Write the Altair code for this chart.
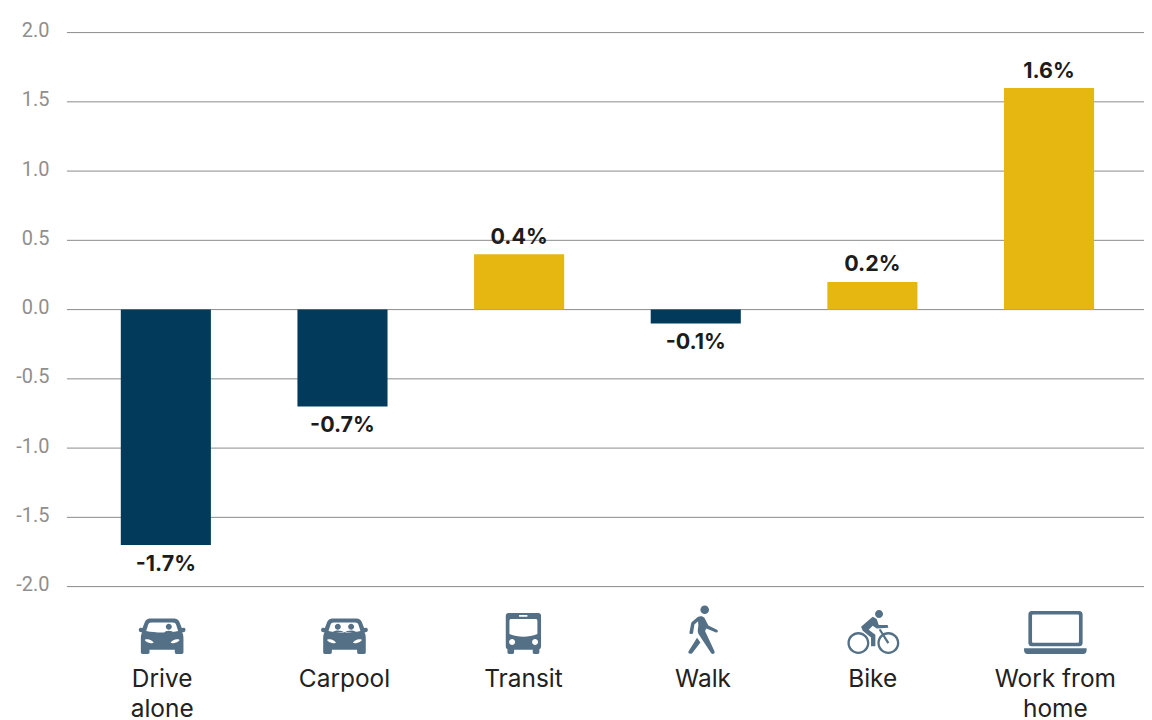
import altair as alt
import pandas as pd

categories = ["Drive alone", "Carpool", "Transit", "Walk", "Bike", "Work from home"]
values = [-1.7, -0.7, 0.4, -0.1, 0.2, 1.6]
value_labels = ["-1.7%", "-0.7%", "0.4%", "-0.1%", "0.2%", "1.6%"]
axis_labels = ["Drive\nalone", "Carpool", "Transit", "Walk", "Bike", "Work from\nhome"]
y_ticks = [-2.0, -1.5, -1.0, -0.5, 0.0, 0.5, 1.0, 1.5, 2.0]
shifts = [-3.7, 2, 4.3, 7.3, 0.3, 6.3]

NAVY = "#023a5c"
GOLD = "#e5b710"
ICON = "#547086"
FONT = "Inter"

CAR = ("M-36,-52 L36,-52 C44,-52 49,-48 52,-41 L59,-23 L66,-24 C71,-24 72,-12 66,-11 L60,-10 C63,-5 64,0 64,8 "
       "L64,50 C64,53 62,55 59,55 L43,55 C40,55 38,53 38,50 L38,42 L-38,42 L-38,50 C-38,53 -40,55 -43,55 L-59,55 "
       "C-62,55 -64,53 -64,50 L-64,8 C-64,0 -63,-5 -60,-10 L-66,-11 C-72,-12 -71,-24 -66,-24 L-59,-23 L-52,-41 "
       "C-49,-48 -44,-52 -36,-52 Z "
       "M-32,-40 C-38,-40 -40,-38 -42,-33 L-48,-14 C-20,-8 20,-8 48,-14 L42,-33 C40,-38 38,-40 32,-40 Z "
       "M-52,12 C-52,18 -36,24 -26,22 C-26,16 -42,8 -52,12 Z "
       "M52,12 C42,8 26,16 26,22 C36,24 52,18 52,12 Z ")
DRIVER = ("M11,-27 A9,9 0 1 1 29,-27 A9,9 0 1 1 11,-27 Z "
          "M6,-9 C8,-17 32,-17 34,-9 Z")
PASSENGERS = ("M-29,-27 A9,9 0 1 1 -11,-27 A9,9 0 1 1 -29,-27 Z "
              "M11,-27 A9,9 0 1 1 29,-27 A9,9 0 1 1 11,-27 Z "
              "M-34,-11 C-30,-18 -8,-18 0,-9 C8,-18 30,-18 34,-11 Z")
BUS = ("M-53,-60 C-53,-65 -49,-68 -45,-68 L45,-68 C49,-68 53,-65 53,-60 L53,32 C53,37 51,40 48,41 L48,50 "
       "C48,53 46,55 43,55 L33,55 C30,55 28,53 28,50 L28,42 L-28,42 L-28,50 C-28,53 -30,55 -33,55 L-43,55 "
       "C-46,55 -48,53 -48,50 L-48,41 C-51,40 -53,37 -53,32 Z "
       "M-36,-50 C-40,-50 -42,-48 -42,-44 L-42,-5 C-15,6 15,6 42,-5 L42,-44 C42,-48 40,-50 36,-50 Z "
       "M-13,-62 L-13,-57 L12,-57 L12,-62 Z "
       "M-43,19 A9,9 0 1 0 -25,19 A9,9 0 1 0 -43,19 Z "
       "M26,19 A9,9 0 1 0 44,19 A9,9 0 1 0 26,19 Z")
WALK = ("M-8,-78 A13,13 0 1 1 18,-78 A13,13 0 1 1 -8,-78 Z "
        "M-16,-56 C-10,-60 0,-60 4,-54 L16,-31 L42,-18 C47,-15 44,-8 39,-10 L10,-22 L6,-14 L34,46 "
        "C38,53 29,58 24,52 L-14,-6 C-17,-12 -16,-20 -14,-30 Z "
        "M-30,-44 L-16,-56 L-14,-44 L-26,-34 L-30,-8 C-31,-3 -42,-4 -41,-10 L-36,-36 C-35,-40 -33,-42 -30,-44 Z "
        "M-18,6 L-8,20 L-32,52 C-37,58 -48,52 -43,46 Z")
BIKE = ("M7,-65 A12,12 0 1 1 31,-65 A12,12 0 1 1 7,-65 Z "
        "M-76,22 A33,33 0 1 1 -10,22 A33,33 0 1 1 -76,22 Z M-69,22 A26,26 0 1 0 -17,22 A26,26 0 1 0 -69,22 Z "
        "M14,22 A33,33 0 1 1 80,22 A33,33 0 1 1 14,22 Z M21,22 A26,26 0 1 0 73,22 A26,26 0 1 0 21,22 Z "
        "M-35,-27 L0,-57 L12,-50 L18,-32 L45,-32 L47,-24 L12,-22 L0,-30 L-12,-18 L8,-3 L8,32 L-5,32 L-5,5 L-30,-15 Z "
        "M18,-18 L24,-20 L50,20 L44,24 Z")
LAPTOP = ("M-71,-74 L72,-74 C78,-74 82,-70 82,-64 L82,22 C82,28 78,32 72,32 L-71,32 C-77,32 -81,28 -81,22 L-81,-64 "
          "C-81,-70 -77,-74 -71,-74 Z "
          "M-67,-64 C-69,-64 -70,-63 -70,-61 L-70,18 C-70,20 -69,21 -67,21 L68,21 C70,21 71,20 71,18 L71,-61 "
          "C71,-63 70,-64 68,-64 Z "
          "M-94,38 L94,38 L94,44 C94,51 90,55 84,55 L-84,55 C-90,55 -94,51 -94,44 Z")
icons = [CAR + DRIVER, CAR + PASSENGERS, BUS, WALK, BIKE, LAPTOP]

df = pd.DataFrame({"cat": categories, "value": values, "vlabel": value_labels, "alabel": axis_labels})
grid_df = pd.DataFrame({"tick": y_ticks})

x_scale = alt.Scale(domain=categories, range=[54, 1029], paddingInner=0.49, paddingOuter=0)
y_scale = alt.Scale(domain=[-2, 2], nice=False)
x = alt.X("cat:N", scale=x_scale, axis=None, sort=categories)

grid = alt.Chart(grid_df).mark_rule(color="#8c8c8c", strokeWidth=1).encode(
    y=alt.Y("tick:Q", scale=y_scale, axis=alt.Axis(
        values=y_ticks, title=None, domain=False, ticks=False, grid=False,
        labelFont="Roboto", labelFontSize=20, labelColor="#8f8f8f", labelPadding=18, labelOffset=-2,
        labelExpr="replace(format(datum.value, '.1f'), '\u2212', '-')")),
    x=alt.value(0), x2=alt.value(1079),
)

bars = alt.Chart(df).mark_bar().encode(
    x=x,
    y=alt.Y("value:Q", scale=y_scale),
    y2=alt.datum(0),
    color=alt.condition(alt.datum.value < 0, alt.value(NAVY), alt.value(GOLD)),
)

text_style = dict(font=FONT, fontWeight=700, fontSize=21.5, color="#1c1c1c", align="center", baseline="middle")
pos_labels = alt.Chart(df).transform_filter(alt.datum.value >= 0).mark_text(dy=-16.5, **text_style).encode(
    x=x, y=alt.Y("value:Q", scale=y_scale), text="vlabel:N")
neg_labels = alt.Chart(df).transform_filter(alt.datum.value < 0).mark_text(dy=19.5, **text_style).encode(
    x=x, y=alt.Y("value:Q", scale=y_scale), text="vlabel:N")

layers = [grid, bars, pos_labels, neg_labels]
for cat, shift, path in zip(categories, shifts, icons):
    subset = alt.Chart(df).transform_filter(alt.datum.cat == cat)
    layers.append(subset.mark_point(shape=path, size=4 / 9, filled=True, color=ICON, opacity=1,
                                    strokeWidth=0, xOffset=shift).encode(x=x, y=alt.value(604.2)))
    layers.append(subset.mark_text(font=FONT, fontSize=24.5, color="#222222", align="center", baseline="alphabetic",
                                   lineBreak="\n", lineHeight=30, xOffset=shift).encode(
        x=x, y=alt.value(655.8), text="alabel:N"))

chart = alt.layer(*layers).properties(
    width=1079, height=555,
    autosize=alt.AutoSizeParams(type="none"),
    padding={"left": 59, "top": 24, "right": 0, "bottom": 133},
).configure_view(stroke=None)

chart.save("out.html", embed_options={"renderer": "svg", "actions": False})
